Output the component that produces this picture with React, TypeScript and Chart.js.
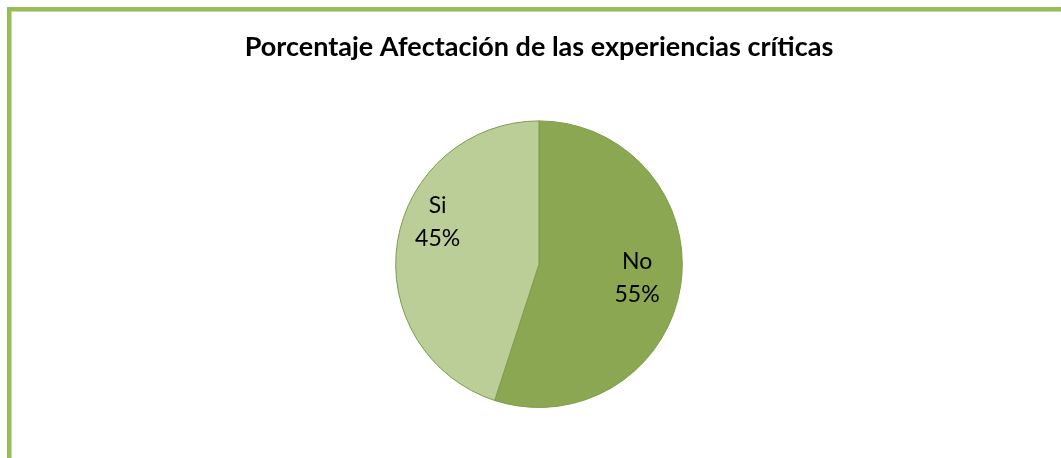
import React, { useEffect, useRef } from "react";
import { Chart, registerables } from "chart.js";

Chart.register(...registerables);

const titleText = "Porcentaje Afectación de las experiencias críticas";
const categories = ["No", "Si"];
const values = [55, 45];
const sliceColors = ["#8BA752", "#BBCE97"];
const outlineColor = "#7E9B48";

// label placement per slice: [radial fraction of radius, angle shift in radians]
const labelPlacement = [
  [0.69, -0.03],
  [0.77, 0.25],
];

const labelPlugin = {
  id: "sliceLabels",
  afterDatasetsDraw(chart: any) {
    const ctx = chart.ctx;
    const meta = chart.getDatasetMeta(0);
    const data = chart.data.datasets[0].data as number[];
    const total = data.reduce((a: number, b: number) => a + b, 0);
    ctx.save();
    ctx.fillStyle = "#000000";
    ctx.font = "23px Lato";
    ctx.textAlign = "center";
    ctx.textBaseline = "alphabetic";
    meta.data.forEach((arc: any, i: number) => {
      const p = arc.getProps(["x", "y", "startAngle", "endAngle", "outerRadius"], true);
      const [frac, shift] = labelPlacement[i];
      const mid = (p.startAngle + p.endAngle) / 2 + shift;
      const r = p.outerRadius * frac;
      const cx = p.x + Math.cos(mid) * r;
      const cy = p.y + Math.sin(mid) * r;
      const pct = Math.round((data[i] / total) * 100) + "%";
      ctx.fillText(chart.data.labels[i], cx, cy - 8);
      ctx.fillText(pct, cx, cy + 25);
    });
    ctx.restore();
  },
};

export default function App() {
  const ref = useRef<HTMLCanvasElement | null>(null);
  useEffect(() => {
    document.body.style.margin = "0";
    if (!ref.current) return;
    const chart = new Chart(ref.current, {
      type: "pie",
      data: {
        labels: categories,
        datasets: [
          {
            data: values,
            backgroundColor: sliceColors,
            borderColor: outlineColor,
            borderWidth: 1,
          },
        ],
      },
      options: {
        animation: false,
        responsive: false,
        maintainAspectRatio: false,
        layout: { padding: { left: 17, right: 0, top: 0, bottom: 50 } },
        plugins: {
          legend: { display: false },
          tooltip: { enabled: false },
          title: {
            display: true,
            text: titleText,
            color: "#000000",
            font: { family: "Lato", size: 27, weight: "bold", lineHeight: 1.2 },
            padding: { top: 31, bottom: 57 },
          },
        },
      },
      plugins: [labelPlugin],
    });
    return () => chart.destroy();
  }, []);
  return (
    <div style={{ position: "relative", width: 1061, height: 458, background: "#ffffff", overflow: "hidden" }}>
      <div
        style={{
          position: "absolute",
          left: 7,
          top: 7,
          width: 1100,
          height: 500,
          borderLeft: "4px solid #9BBB59",
          borderTop: "4px solid #9BBB59",
          boxSizing: "border-box",
        }}
      >
        <div
          style={{
            position: "absolute",
            left: 0,
            top: 0,
            width: "100%",
            height: "100%",
            borderLeft: "1px solid #C9DAA6",
            borderTop: "1px solid #C9DAA6",
          }}
        />
      </div>
      <canvas ref={ref} width={1061} height={458} style={{ position: "absolute", left: 0, top: 0 }} />
    </div>
  );
}
